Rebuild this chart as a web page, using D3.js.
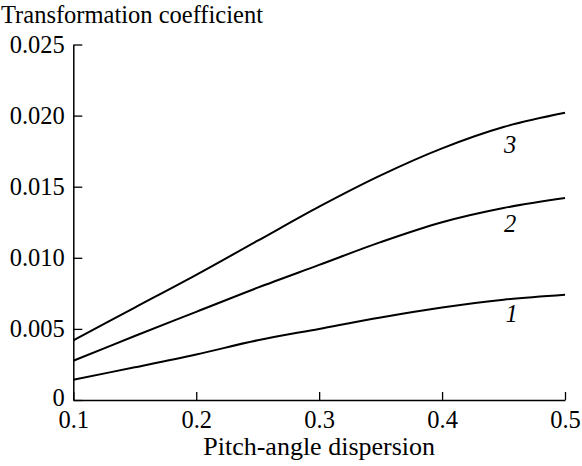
<!DOCTYPE html>
<html>
<head>
<meta charset="utf-8">
<script src="https://cdn.jsdelivr.net/npm/d3@7"></script>
<style>
  html, body { margin: 0; padding: 0; background: #fff; }
  svg { display: block; }
</style>
</head>
<body>
<svg id="chart" width="582" height="466"></svg>
<script>
// Pitch-angle dispersion values
const dispersion = [0.1, 0.15, 0.2, 0.25, 0.3, 0.35, 0.4, 0.45, 0.5];

// Transformation coefficient for each curve
const curve1 = [0.00143, 0.0023, 0.0032, 0.0042, 0.0050, 0.0058, 0.0065, 0.00705, 0.0074];
const curve2 = [0.00276, 0.0045, 0.0062, 0.0079, 0.0095, 0.0111, 0.0125, 0.0135, 0.0142];
const curve3 = [0.0042, 0.0065, 0.0088, 0.0112, 0.0136, 0.0158, 0.0177, 0.0192, 0.0202];

const curveNames = ["1", "2", "3"];
// label anchor points (x, y in data units)
const labelX = [0.4565, 0.4553, 0.4553];
const labelY = [0.00608, 0.01243, 0.0180];

const xTicks = [0.1, 0.2, 0.3, 0.4, 0.5];
const yTicks = [0, 0.005, 0.010, 0.015, 0.020, 0.025];

const xTitle = "Pitch-angle dispersion";
const yTitle = "Transformation coefficient";

const FONT = "'Liberation Serif', 'Times New Roman', Times, serif";
const fontSize = 24.5;

const svg = d3.select("#chart").style("font-family", FONT);

const x = d3.scaleLinear().domain([0.1, 0.5]).range([73.3, 565]);
const y = d3.scaleLinear().domain([0, 0.025]).range([400, 44.5]);

function styleAxis(g) {
  g.attr("font-family", null).attr("font-size", null);
  g.selectAll("text")
    .style("font-family", FONT)
    .style("font-size", fontSize + "px")
    .attr("fill", "#000");
  g.select(".domain").attr("stroke", "#000").attr("stroke-width", 1.5);
  g.selectAll(".tick line").attr("stroke", "#000").attr("stroke-width", 1.3);
}

// y axis with inward ticks
const yAxis = d3.axisLeft(y)
  .tickValues(yTicks)
  .tickSizeInner(-9)
  .tickSizeOuter(0)
  .tickPadding(8.5)
  .tickFormat(d => d === 0 ? "0" : d3.format(".3f")(d));

svg.append("g")
  .attr("transform", `translate(${x.range()[0]},0)`)
  .call(yAxis)
  .call(styleAxis)
  .selectAll(".tick text")
  .filter(d => d === 0)
  .attr("dy", "0.22em"); // lift the origin label clear of the x labels

// x axis with inward ticks
const xAxis = d3.axisBottom(x)
  .tickValues(xTicks)
  .tickSizeInner(-8)
  .tickSizeOuter(0)
  .tickPadding(11)
  .tickFormat(d3.format(".1f"));

svg.append("g")
  .attr("transform", `translate(0,${y.range()[0]})`)
  .call(xAxis)
  .call(styleAxis);

// axis titles
svg.append("text")
  .attr("x", 1).attr("y", 23)
  .style("font-family", FONT)
  .style("font-size", fontSize + "px")
  .text(yTitle);

svg.append("text")
  .attr("x", (x.range()[0] + x.range()[1]) / 2).attr("y", 455)
  .attr("text-anchor", "middle")
  .style("font-family", FONT)
  .style("font-size", "26px")
  .text(xTitle);

// curves
const series = [curve1, curve2, curve3];
const line = d3.line()
  .x(d => x(d[0]))
  .y(d => y(d[1]))
  .curve(d3.curveCatmullRom.alpha(0.5));

series.forEach((vals, i) => {
  svg.append("path")
    .datum(dispersion.map((d, j) => [d, vals[j]]))
    .attr("fill", "none")
    .attr("stroke", "#000")
    .attr("stroke-width", 2)
    .attr("d", line);

  svg.append("text")
    .attr("x", x(labelX[i]))
    .attr("y", y(labelY[i]))
    .attr("dy", "0.35em")
    .attr("text-anchor", "middle")
    .style("font-family", FONT)
    .style("font-size", fontSize + "px")
    .style("font-style", "italic")
    .text(curveNames[i]);
});
</script>
</body>
</html>
